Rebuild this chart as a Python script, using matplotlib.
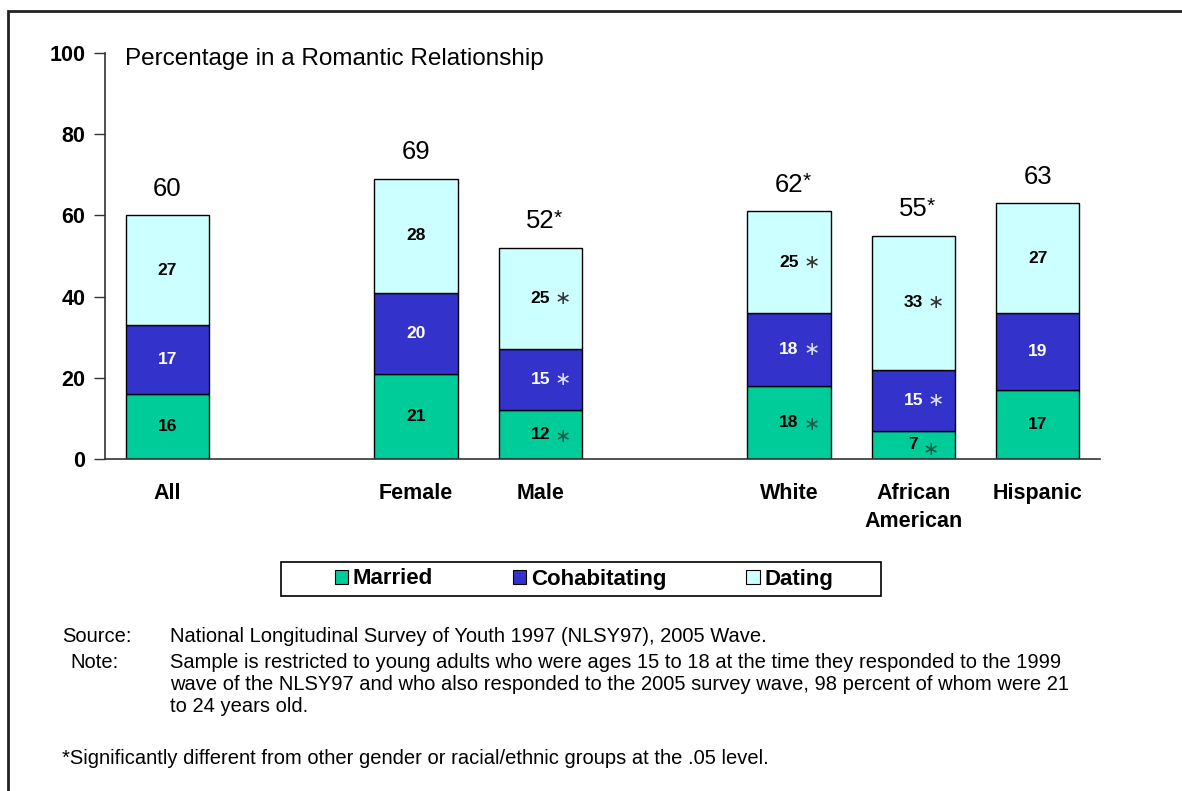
import matplotlib
matplotlib.use("Agg")
import matplotlib.pyplot as plt
from matplotlib.patches import Rectangle, Patch

plt.rcParams['font.family'] = ['Liberation Sans', 'DejaVu Sans']

categories = ["All", "Female", "Male", "White", "African\nAmerican", "Hispanic"]
positions = [0, 2, 3, 5, 6, 7]
married = [16, 21, 12, 18, 7, 17]
cohabiting = [17, 20, 15, 18, 15, 19]
dating = [27, 28, 25, 25, 33, 27]
total_labels = ["60", "69", "52", "62", "55", "63"]
total_star = [False, False, True, True, True, False]
married_star = [False, False, True, True, True, False]
cohab_star = [False, False, True, True, True, False]
dating_star = [False, False, True, True, True, False]

c_married = "#00CC99"
c_cohab = "#3333CC"
c_dating = "#CCFFFF"

W, H = 1182, 791
fig = plt.figure(figsize=(W / 100, H / 100), dpi=100)

def fx(px):
    return px / W

def fy(py):
    return 1 - py / H

ax = fig.add_axes([fx(105), fy(459), fx(1100) - fx(105), fy(53) - fy(459)])
width = 0.67
bottom2 = [m + c for m, c in zip(married, cohabiting)]
ax.bar(positions, married, width, color=c_married, edgecolor="black", linewidth=1)
ax.bar(positions, cohabiting, width, bottom=married, color=c_cohab, edgecolor="black", linewidth=1)
ax.bar(positions, dating, width, bottom=bottom2, color=c_dating, edgecolor="black", linewidth=1)

ax.set_xlim(-0.5, 7.5)
ax.set_ylim(0, 100)
ax.set_yticks([0, 20, 40, 60, 80, 100])
ax.tick_params(axis='y', direction='out', length=8, width=1, colors='#333333', labelcolor='black', labelsize=15.5, pad=6)
for lab in ax.get_yticklabels():
    lab.set_fontweight('bold')
ax.set_xticks(positions)
ax.set_xticklabels(categories, fontsize=15.5, fontweight='bold', linespacing=1.45, va='top')
ax.tick_params(axis='x', length=0, pad=17)
for s in ['top', 'right']:
    ax.spines[s].set_visible(False)
for s in ['left', 'bottom']:
    ax.spines[s].set_color('#333333')
    ax.spines[s].set_linewidth(1.2)

ax.text(0.02, 0.985, "Percentage in a Romantic Relationship", transform=ax.transAxes,
        fontsize=17.5, va='center', ha='left')

def seg_label(x, y, val, star, color, star_color, star_dy=0.0):
    ax.text(x, y, str(val), ha='center', va='center', fontsize=12.5, fontweight='bold', color=color)
    if star:
        off = 0.035 + 0.04 * len(str(val))
        ax.text(x + off, y + star_dy, "\u2217", ha='left', va='center', fontsize=14,
                color=star_color, family=['DejaVu Sans'])

for i, p in enumerate(positions):
    seg_label(p, married[i] / 2, married[i], married_star[i], 'black', '#1a5a4a',
              star_dy=-1.2 if married[i] < 10 else -0.4)
    seg_label(p, married[i] + cohabiting[i] / 2, cohabiting[i], cohab_star[i], 'white', '#e0e0ff')
    seg_label(p, bottom2[i] + dating[i] / 2, dating[i], dating_star[i], 'black', '#333333')
    top = bottom2[i] + dating[i]
    ax.text(p, top + 6.5, total_labels[i], ha='center', va='center', fontsize=18.5)
    if total_star[i]:
        ax.text(p + 0.11, top + 7.3, "*", ha='left', va='center', fontsize=15)

# legend
handles = [Patch(facecolor=c_married, edgecolor='black', linewidth=0.8),
           Patch(facecolor=c_cohab, edgecolor='black', linewidth=0.8),
           Patch(facecolor=c_dating, edgecolor='black', linewidth=0.8)]
fig.legend(handles, ["Married", "Cohabitating", "Dating"], loc='center',
           bbox_to_anchor=(fx(584), fy(579)), ncol=3, frameon=False,
           prop={'size': 16, 'weight': 'bold'}, handlelength=0.6, handleheight=0.6,
           handletextpad=0.2, columnspacing=3.6)
fig.patches.append(Rectangle((fx(281), fy(596)), fx(881) - fx(281), fy(562) - fy(596),
                             transform=fig.transFigure, fill=False, edgecolor='black', linewidth=1.2))

# outer frame
fig.patches.append(Rectangle((fx(8), fy(800)), fx(1200) - fx(8), fy(11) - fy(800),
                             transform=fig.transFigure, fill=False, edgecolor='#222222', linewidth=2))

fs = 14.5
fig.text(fx(62), fy(636), "Source:", fontsize=fs, va='center')
fig.text(fx(170), fy(636), "National Longitudinal Survey of Youth 1997 (NLSY97), 2005 Wave.", fontsize=fs, va='center')
fig.text(fx(70), fy(663), "Note:", fontsize=fs, va='center')
note_lines = ["Sample is restricted to young adults who were ages 15 to 18 at the time they responded to the 1999",
              "wave of the NLSY97 and who also responded to the 2005 survey wave, 98 percent of whom were 21",
              "to 24 years old."]
for k, line in enumerate(note_lines):
    fig.text(fx(170), fy(663 + 22 * k), line, fontsize=fs, va='center')
fig.text(fx(62), fy(758), "*Significantly different from other gender or racial/ethnic groups at the .05 level.",
         fontsize=fs, va='center')

fig.savefig("out.png", dpi=100)
